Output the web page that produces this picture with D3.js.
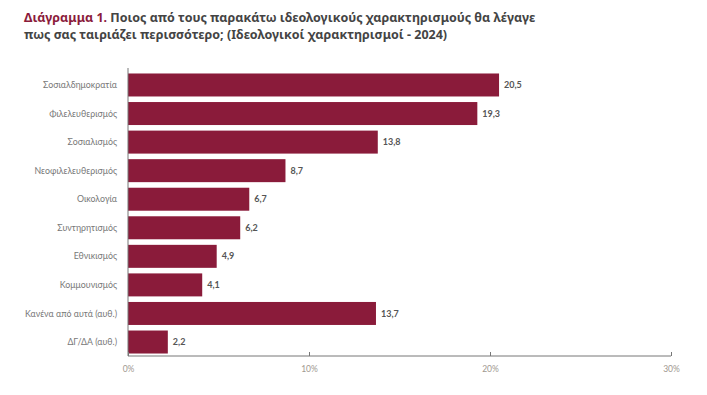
<!DOCTYPE html>
<html><head><meta charset="utf-8">
<script src="https://cdn.jsdelivr.net/npm/d3@7/dist/d3.min.js"></script>
<style>body{margin:0;background:#fff}svg{display:block}</style>
</head><body>
<script>
const categories = ["Σοσιαλδημοκρατία","Φιλελευθερισμός","Σοσιαλισμός","Νεοφιλελευθερισμός","Οικολογία","Συντηρητισμός","Εθνικισμός","Κομμουνισμός","Κανένα από αυτά (αυθ.)","ΔΓ/ΔΑ (αυθ.)"];
const values = [20.5,19.3,13.8,8.7,6.7,6.2,4.9,4.1,13.7,2.2];
const ticks = [0,10,20,30];

const W=707,H=395;
const svg=d3.select("body").append("svg").attr("width",W).attr("height",H);
const m={left:128,right:671,top:71,bottom:356};
const x=d3.scaleLinear().domain([0,30]).range([m.left,m.right]);
const y=d3.scaleBand().domain(categories).range([m.top,m.bottom]).paddingInner(0.195).paddingOuter(0.087);

const t=svg.append("text").attr("font-family","Noto Sans, sans-serif").attr("font-size",12.5).attr("font-weight",700).attr("fill","#444");
t.append("tspan").attr("x",24).attr("y",22).attr("fill","#8B1B3B").text("Διάγραμμα 1.");
t.append("tspan").text(" Ποιος από τους παρακάτω ιδεολογικούς χαρακτηρισμούς θα λέγαγε");
svg.append("text").attr("x",24).attr("y",39).attr("font-family","Noto Sans, sans-serif").attr("font-size",12.5).attr("font-weight",700).attr("fill","#444")
  .text("πως σας ταιριάζει περισσότερο; (Ιδεολογικοί χαρακτηρισμοί - 2024)");

svg.append("g").selectAll("rect").data(values).join("rect")
  .attr("x",x(0)).attr("y",(d,i)=>y(categories[i])).attr("width",d=>x(d)-x(0)).attr("height",y.bandwidth()).attr("fill","#8A1B3A");

svg.append("g").selectAll("text").data(values).join("text")
  .attr("x",d=>x(d)+5).attr("y",(d,i)=>y(categories[i])+y.bandwidth()/2).attr("dy","0.35em")
  .attr("font-family","Lato, sans-serif").attr("font-size",9).attr("font-weight",700).attr("fill","#555")
  .text(d=>d.toFixed(1).replace(".",","));

svg.append("g").selectAll("text").data(categories).join("text")
  .attr("x",117).attr("y",d=>y(d)+y.bandwidth()/2).attr("dy","0.35em").attr("text-anchor","end")
  .attr("font-family","Lato, sans-serif").attr("font-size",8.8).attr("fill","#777").text(d=>d);

// axes
svg.append("line").attr("x1",x(0)).attr("x2",x(0)).attr("y1",m.top-3).attr("y2",m.bottom).attr("stroke","#777").attr("stroke-width",1);
const xa=d3.axisBottom(x).tickValues(ticks).tickSize(-4).tickPadding(10).tickFormat(d=>d+"%");
const g=svg.append("g").attr("transform",`translate(0,${m.bottom})`).call(xa);
g.select(".domain").attr("stroke","#777").attr("d",`M${x(0)},0H${x(30)}`);
g.selectAll(".tick line").attr("stroke","#777");
g.selectAll(".tick text").attr("font-family","Lato, sans-serif").attr("font-size",8.5).attr("fill","#a09890");
</script>
</body></html>
